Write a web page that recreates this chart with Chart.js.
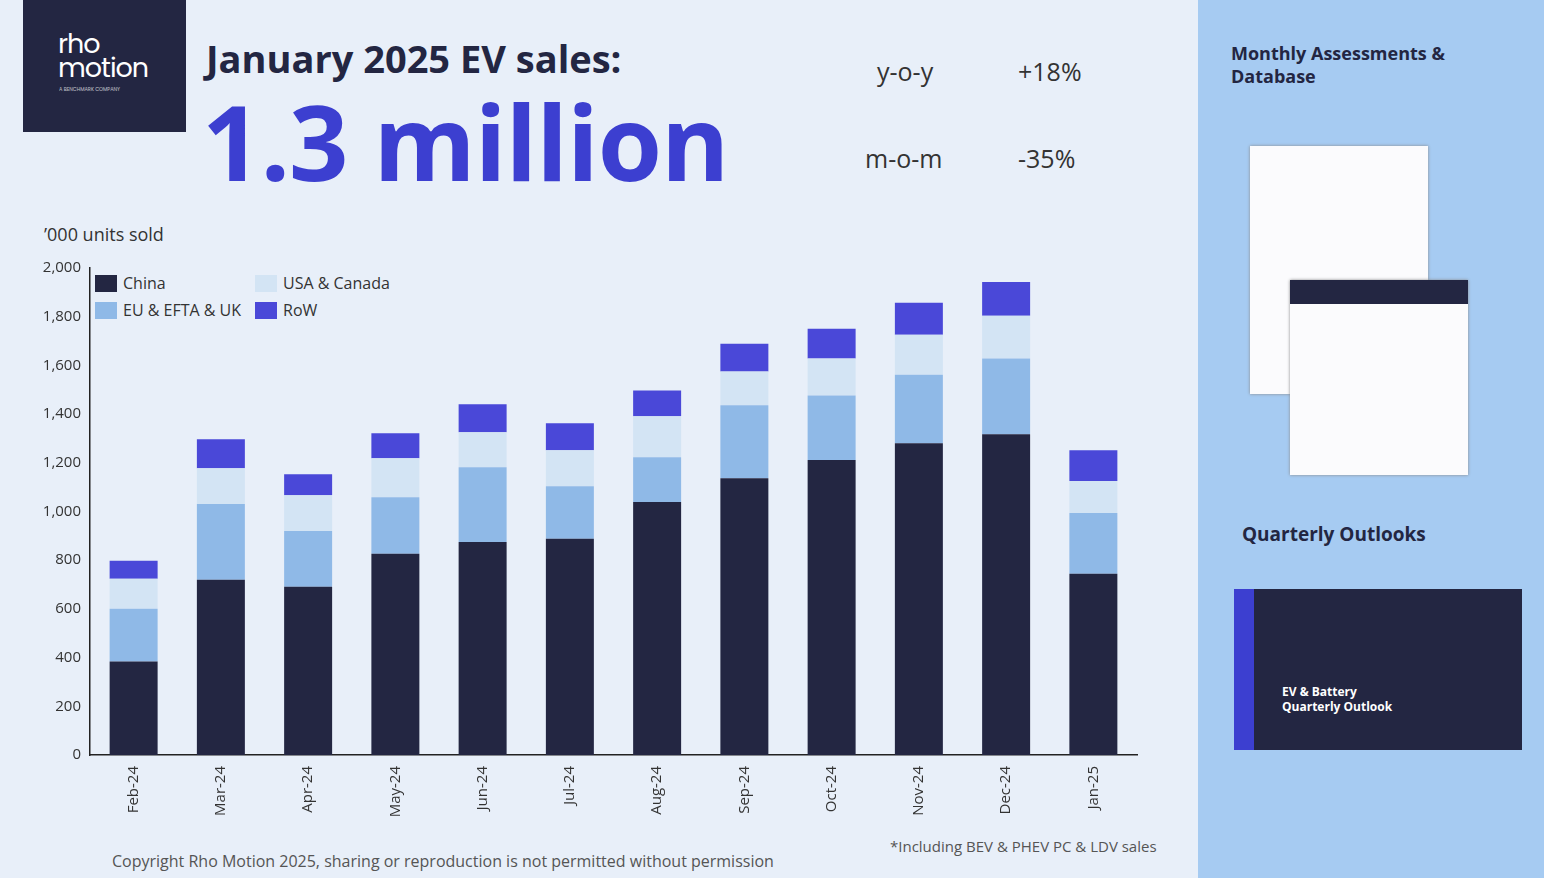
<!DOCTYPE html>
<html><head><meta charset="utf-8">
<script src="https://cdn.jsdelivr.net/npm/chart.js@4/dist/chart.umd.min.js"></script>
<style>
body{margin:0;width:1544px;height:878px;overflow:hidden;font-family:"Open Sans",sans-serif;background:#e8eff9;position:relative}
.abs{position:absolute}
#logo{left:23px;top:0;width:163px;height:132px;background:#232642;color:#fff;font-family:Poppins,"Noto Sans",sans-serif}
#side{left:1198px;top:0;width:346px;height:878px;background:#a6cbf2}
.lg{display:flex;align-items:center;font-size:16px;color:#333}
.sw{width:22px;height:17px;margin-right:6px}
</style></head><body>
<div id="logo" class="abs"><div style="position:absolute;left:35px;top:32px;font-size:27px;line-height:24px;letter-spacing:-1px">rho<br>motion</div><div style="position:absolute;left:36px;top:86px;font-size:5px;opacity:.7">A BENCHMARK COMPANY</div></div>
<div class="abs" style="left:206px;top:32px;font-size:38px;font-weight:700;color:#232642">January 2025 EV sales:</div>
<div class="abs" style="left:202px;top:70px;font-size:104px;font-weight:700;color:#3c3fd0;letter-spacing:-1px">1.3 million</div>
<div class="abs" style="left:877px;top:54px;font-size:25px;color:#333">y-o-y</div>
<div class="abs" style="left:1018px;top:54px;font-size:25px;color:#333">+18%</div>
<div class="abs" style="left:865px;top:141px;font-size:25px;color:#333">m-o-m</div>
<div class="abs" style="left:1018px;top:141px;font-size:25px;color:#333">-35%</div>
<div class="abs" style="left:44px;top:222px;font-size:18px;color:#333">’000 units sold</div>
<div class="abs" style="left:112px;top:850px;font-size:16px;color:#555">Copyright Rho Motion 2025, sharing or reproduction is not permitted without permission</div>
<div class="abs" style="left:890px;top:836px;font-size:15px;color:#555">*Including BEV &amp; PHEV PC &amp; LDV sales</div>
<div id="side" class="abs">
 <div class="abs" style="left:33px;top:42px;font-size:18px;font-weight:700;color:#232642;line-height:23px">Monthly Assessments &amp;<br>Database</div>
 <div class="abs" style="left:52px;top:146px;width:178px;height:248px;background:#fbfbfd;box-shadow:0 0 3px #888"></div>
 <div class="abs" style="left:92px;top:280px;width:178px;height:195px;background:#fbfbfd;box-shadow:0 0 3px #888"><div style="height:24px;background:#232642"></div></div>
 <div class="abs" style="left:44px;top:521px;font-size:19px;font-weight:700;color:#232642">Quarterly Outlooks</div>
 <div class="abs" style="left:36px;top:589px;width:288px;height:161px;background:#232642;border-left:20px solid #3c3fd0;box-sizing:border-box">
  <div style="position:absolute;left:28px;top:95px;color:#fff;font-size:12px;font-weight:700;line-height:15px">EV &amp; Battery<br>Quarterly Outlook</div></div>
</div>
<div class="abs" style="left:95px;top:272px;display:grid;grid-template-columns:160px 160px;row-gap:5px">
 <div class="lg"><span class="sw" style="background:#232642"></span>China</div>
 <div class="lg"><span class="sw" style="background:#d3e4f4"></span>USA &amp; Canada</div>
 <div class="lg"><span class="sw" style="background:#8fb9e7"></span>EU &amp; EFTA &amp; UK</div>
 <div class="lg"><span class="sw" style="background:#4a48d8"></span>RoW</div>
</div>
<canvas id="c" class="abs" style="left:0;top:256px"></canvas>
<script>
const months = ['Feb-24','Mar-24','Apr-24','May-24','Jun-24','Jul-24','Aug-24','Sep-24','Oct-24','Nov-24','Dec-24','Jan-25'];
const china = [384,720,691,826,875,888,1039,1137,1211,1280,1317,744];
const euEftaUk = [217,311,229,233,307,216,184,299,265,282,311,250];
const usaCanada = [123,147,147,160,143,148,168,139,152,164,176,131];
const row = [74,119,86,102,115,110,106,114,123,131,139,127];
const cv = document.getElementById('c');
cv.width = 1140; cv.height = 589; cv.style.width='1140px'; cv.style.height='589px';
const mk = (label, data, color) => ({label, data, backgroundColor: color, barPercentage: 0.55, categoryPercentage: 1});
new Chart(cv, {
  type: 'bar',
  data: {labels: months, datasets: [
    mk('China', china, '#232642'),
    mk('EU & EFTA & UK', euEftaUk, '#8fb9e7'),
    mk('USA & Canada', usaCanada, '#d3e4f4'),
    mk('RoW', row, '#4a48d8')
  ]},
  options: {
    responsive: false, animation: false,
    layout: {padding: {top: 10, right: 3}},
    plugins: {legend: {display: false}, tooltip: {enabled: false}},
    scales: {
      x: {stacked: true, grid: {display: false, drawTicks: true},
        border: {color: '#222', width: 1.5},
        ticks: {maxRotation: 90, minRotation: 90, color: '#333', font: {size: 15, family: 'Open Sans'}},
        afterFit: s => { s.height = 90; }},
      y: {stacked: true, min: 0, max: 2000,
        grid: {display: false, drawOnChartArea: false, drawTicks: true, tickLength: 6, tickColor: '#222'},
        border: {color: '#222', width: 1.5},
        ticks: {stepSize: 200, color: '#333', font: {size: 15, family: 'Open Sans'}, callback: v => v.toLocaleString('en-US')},
        afterFit: s => { s.width = 90; }}
    }
  }
});
</script>
</body></html>
